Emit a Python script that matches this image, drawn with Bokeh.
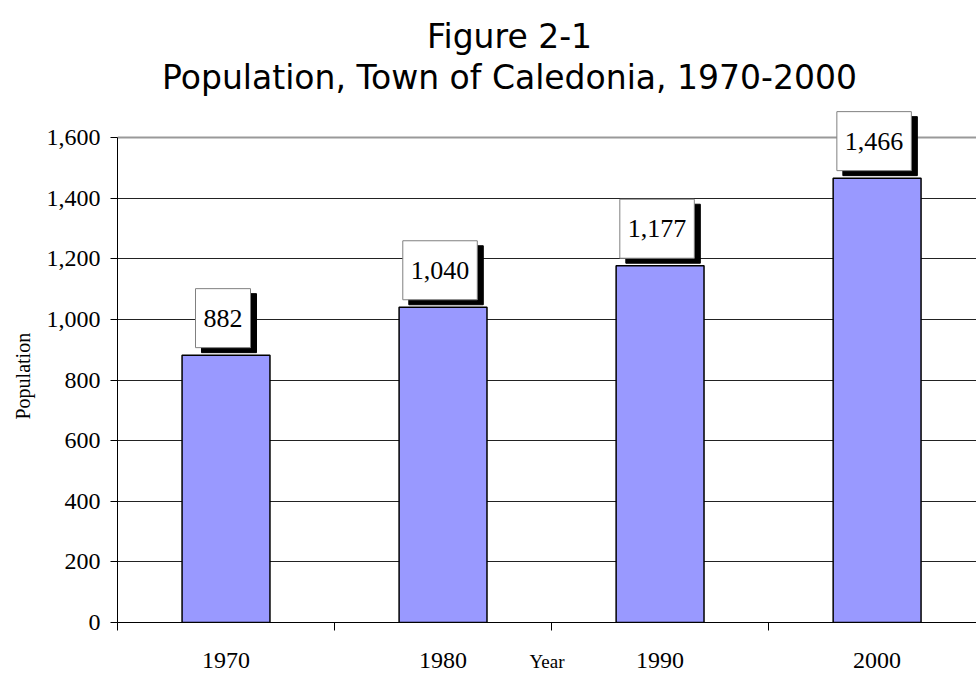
from bokeh.plotting import figure
from bokeh.models import (FixedTicker, NumeralTickFormatter, Label, Span, ColumnDataSource,
                          Range1d, Title)
from bokeh.core.properties import value
from bokeh.embed import file_html
from bokeh.resources import INLINE

# ---- data ----
years = ["1970", "1980", "1990", "2000"]
population = [882, 1040, 1177, 1466]
y_ticks = [0, 200, 400, 600, 800, 1000, 1200, 1400, 1600]
title_line1 = "Figure 2-1"
title_line2 = "Population, Town of Caledonia, 1970-2000"
x_title = "Year"
y_title = "Population"

xpos = [i + 0.5 for i in range(len(years))]
bounds_x = [i for i in range(len(years) + 1)]
labels = [f"{v:,}" for v in population]
src = ColumnDataSource(dict(x=xpos, top=population, label=labels))

# frame spans the whole upper area so the title texts are inside it
p = figure(width=976, height=675, output_backend="svg", toolbar_location=None,
           x_range=Range1d(0, 3.958), y_range=Range1d(0, 2052),
           min_border_left=117, min_border_right=0, min_border_top=0,
           min_border_bottom=53, background_fill_color="white",
           border_fill_color="white")
p.outline_line_color = None

# x axis
p.xaxis.ticker = FixedTicker(ticks=xpos, minor_ticks=bounds_x)
p.xaxis.major_label_overrides = {x: y for x, y in zip(xpos, years)}
p.xaxis.major_tick_out = 0
p.xaxis.major_tick_in = 0
p.xaxis.minor_tick_out = 8
p.xaxis.minor_tick_in = 0
p.xaxis.minor_tick_line_color = "black"
p.xaxis.axis_line_color = "black"
p.xaxis.major_label_text_font = "Liberation Serif"
p.xaxis.major_label_text_font_size = "24px"
p.xaxis.major_label_text_color = "black"
p.xaxis.major_label_standoff = 22
p.xaxis.axis_label = x_title
p.xaxis.axis_label_text_font = "Liberation Serif"
p.xaxis.axis_label_text_font_size = "19px"
p.xaxis.axis_label_text_font_style = "normal"
p.xaxis.axis_label_text_color = "black"
p.xaxis.axis_label_standoff = -20
p.xgrid.visible = False

# y axis
p.yaxis.ticker = FixedTicker(ticks=y_ticks)
p.yaxis.formatter = NumeralTickFormatter(format="0,0")
p.yaxis.bounds = (y_ticks[0], y_ticks[-1])
p.yaxis.major_tick_out = 7
p.yaxis.major_tick_in = 0
p.yaxis.minor_tick_out = 0
p.yaxis.minor_tick_in = 0
p.yaxis.axis_line_color = "black"
p.yaxis.major_tick_line_color = "black"
p.yaxis.major_label_text_font = "Liberation Serif"
p.yaxis.major_label_text_font_size = "24px"
p.yaxis.major_label_text_color = "black"
p.yaxis.major_label_standoff = 10

# y axis title, placed along the 0..1600 part of the axis
p.add_layout(Title(text=y_title, align="left", offset=203, vertical_align="middle",
                   standoff=17, text_font="Liberation Serif", text_font_size="20px",
                   text_font_style="normal", text_color="black"), "left")

p.ygrid.ticker = FixedTicker(ticks=y_ticks[1:-1])
p.ygrid.grid_line_color = "#222222"
p.ygrid.grid_line_width = 1

p.add_layout(Span(location=y_ticks[-1], dimension="width", line_color="#999999",
                  line_width=2, level="underlay"))

# bars
p.vbar(x="x", top="top", bottom=0, width=0.405, source=src,
       fill_color="#9999FF", line_color="black", line_width=1.5)

# data labels: shadow + box
pad = dict(left=8, right=8, top=21, bottom=21)
p.text(x="x", y="top", text="label", source=src,
       text_font=value("Liberation Serif"), text_font_size="26px",
       text_align="center", text_baseline="middle", text_alpha=0,
       x_offset=3, y_offset=-32, background_fill_color="black",
       border_line_color="black", padding=pad)
p.text(x="x", y="top", text="label", source=src,
       text_font=value("Liberation Serif"), text_font_size="26px",
       text_align="center", text_baseline="middle", text_color="black",
       x_offset=-3, y_offset=-37, background_fill_color="white",
       border_line_color="#808080", border_line_width=1, padding=pad)

# titles
p.add_layout(Label(x=392, y=586, x_units="screen", y_units="screen", text=title_line1,
                   text_align="center", text_baseline="alphabetic",
                   text_font="DejaVu Sans", text_font_size="33px", text_color="black"))
p.add_layout(Label(x=392, y=545, x_units="screen", y_units="screen", text=title_line2,
                   text_align="center", text_baseline="alphabetic",
                   text_font="DejaVu Sans", text_font_size="33px", text_color="black"))

open("out.html", "w").write(file_html(p, INLINE))
